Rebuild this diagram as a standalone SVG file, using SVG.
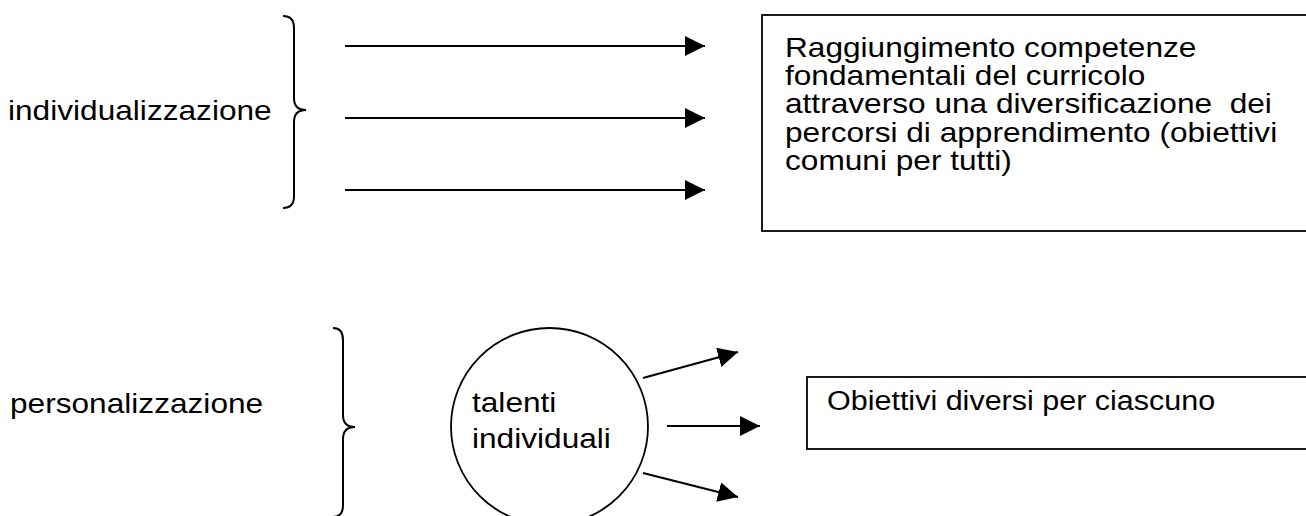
<svg xmlns="http://www.w3.org/2000/svg" width="1306" height="516" viewBox="0 0 1306 516">
<style>
  text { font-family: "Liberation Sans", Arial, sans-serif; font-size: 28px; fill: #000; }
  .ln { stroke: #000; stroke-width: 2.2; fill: none; }
  .box { stroke: #000; stroke-width: 1.8; fill: #fff; }
  .br { stroke: #000; stroke-width: 2; fill: none; }
</style>
<defs>
  <marker id="ah" viewBox="0 0 20 20" markerWidth="20" markerHeight="20" refX="20" refY="10" orient="auto" markerUnits="userSpaceOnUse">
    <path d="M0,0 L20,10 L0,20 Z" fill="#000"/>
  </marker>
</defs>
<rect width="1306" height="516" fill="#fff"/>
<g id="label-individualizzazione">
  <text transform="translate(8,120) scale(1.13,1)">individualizzazione</text>
</g>
<g id="brace-top">
  <path class="br" d="M283,16 Q294,16 294,28 L294,98 Q294,110 306,110 Q294,110 294,122 L294,196 Q294,208 283,208"/>
</g>
<g id="box-top">
  <rect class="box" x="762" y="15" width="600" height="216"/>
  <text transform="translate(785,57) scale(1.13,1)">Raggiungimento competenze</text>
  <text transform="translate(785,85) scale(1.13,1)">fondamentali del curricolo</text>
  <text transform="translate(785,113) scale(1.13,1)" xml:space="preserve">attraverso una diversificazione  dei</text>
  <text transform="translate(785,142) scale(1.13,1)">percorsi di apprendimento (obiettivi</text>
  <text transform="translate(785,170) scale(1.13,1)">comuni per tutti)</text>
</g>
<g id="label-personalizzazione">
  <text transform="translate(10,413) scale(1.13,1)">personalizzazione</text>
</g>
<g id="brace-bottom">
  <path class="br" d="M333,328 Q343,328 343,340 L343,415 Q343,427 355,427 Q343,427 343,439 L343,505 Q343,517 333,517"/>
</g>
<g id="circle-talenti">
  <circle class="box" cx="549.5" cy="426.5" r="98.5"/>
  <text transform="translate(472,412) scale(1.13,1)">talenti</text>
  <text transform="translate(472,448) scale(1.13,1)">individuali</text>
</g>
<g id="box-bottom">
  <rect class="box" x="807" y="377" width="600" height="72"/>
  <text transform="translate(827,410) scale(1.09,1)">Obiettivi diversi per ciascuno</text>
</g>
<g id="connectors">
  <line class="ln" x1="345" y1="46" x2="705" y2="46" marker-end="url(#ah)"/>
  <line class="ln" x1="345" y1="118" x2="705" y2="118" marker-end="url(#ah)"/>
  <line class="ln" x1="345" y1="190" x2="705" y2="190" marker-end="url(#ah)"/>
  <line class="ln" x1="643" y1="378" x2="738" y2="352" marker-end="url(#ah)"/>
  <line class="ln" x1="667" y1="426" x2="760" y2="426" marker-end="url(#ah)"/>
  <line class="ln" x1="643" y1="473" x2="738" y2="497" marker-end="url(#ah)"/>
</g>
</svg>
